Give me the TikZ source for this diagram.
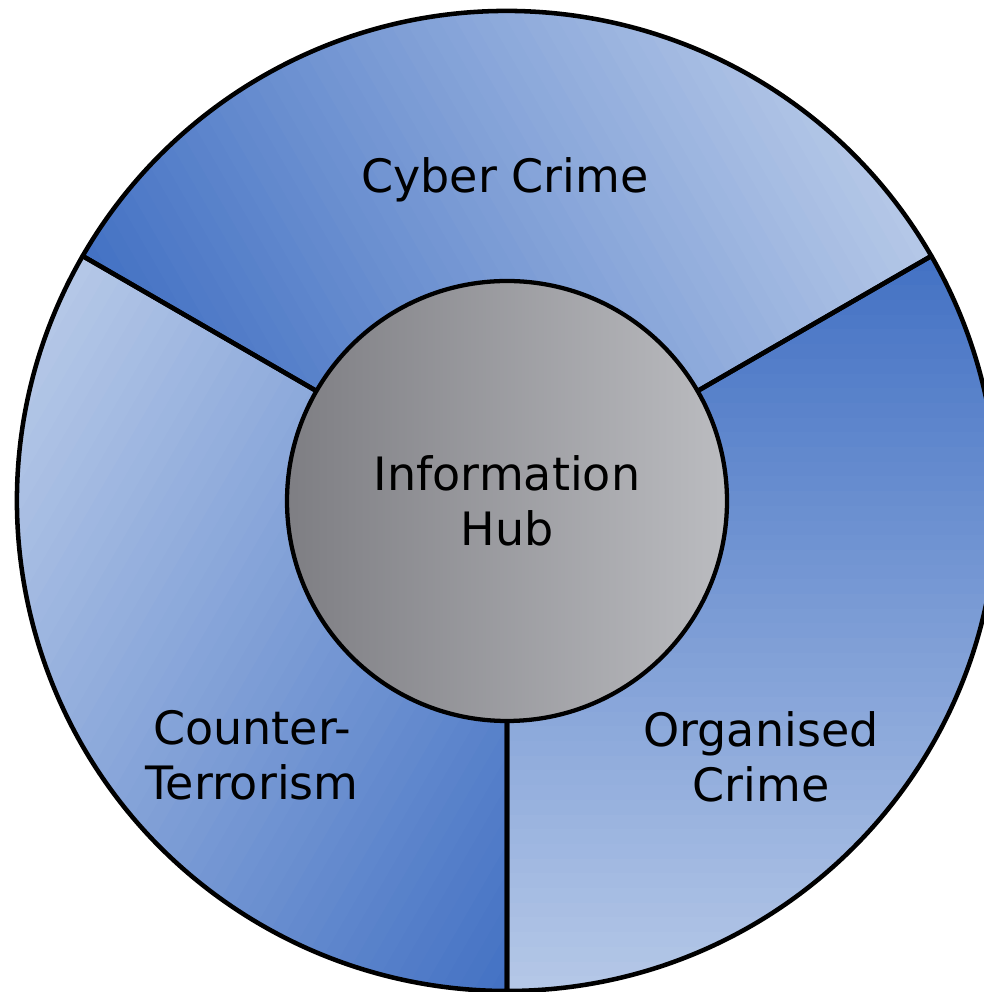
\documentclass[tikz,border=0pt]{standalone}
\usepackage{fontspec}
\setmainfont{DejaVu Sans}
\definecolor{bdark}{HTML}{4472C4}
\definecolor{blight}{HTML}{B4C7E7}
\definecolor{gdark}{HTML}{7E7E83}
\definecolor{glight}{HTML}{BBBCC0}
\begin{document}
\begin{tikzpicture}[x=0.75pt,y=0.75pt,
  lab/.style={font=\fontsize{34.5pt}{41.25pt}\selectfont, align=center, inner sep=0pt, text=black},
  rim/.style={draw=black, line width=3.4pt, line join=round},
  hub/.style={circle, draw=black, line width=3.2pt, minimum size=330pt, inner sep=0pt,
              left color=gdark, right color=glight, lab}]
\useasboundingbox (0,0) rectangle (983,992);
\def\R{490}
% gradient fills of the three sectors
\foreach \rot in {0,120,240}{
  \begin{scope}[shift={(507,491)}, rotate=\rot]
    \clip (0,0) -- (-90:\R) arc (-90:30:\R) -- cycle;
    \foreach \i in {0,...,49}{
      \pgfmathsetmacro\p{100*\i/49}
      \fill[blight!\p!bdark] (-\R,{245-\i*14.7}) rectangle ++(2*\R,-15.5);
    }
  \end{scope}
}
% sector outlines
\foreach \rot in {0,120,240}{
  \draw[rim, shift={(507,491)}, rotate=\rot] (0,0) -- (-90:\R) arc (-90:30:\R) -- cycle;
}
% centre
\node[hub] (hub) at (507,491) {Information\\Hub};
% labels
\node[lab, anchor=base] (cyber) at (505,799) {Cyber Crime};
\node[lab] (counter) at (252,236.5) {Counter-\\Terrorism};
\node[lab] (organised) at (761,235.6) {Organised\\Crime};
\end{tikzpicture}
\end{document}
